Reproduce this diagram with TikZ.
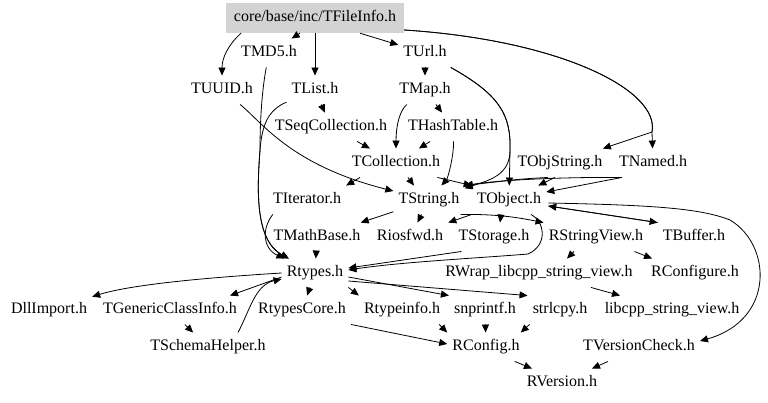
\documentclass[tikz,border=0pt]{standalone}
\usepackage{fontspec}
\setmainfont{Liberation Serif}
\usetikzlibrary{arrows.meta,calc}
\definecolor{boxgray}{RGB}{211,211,211}
\begin{document}
\begin{tikzpicture}[x=1pt,y=-1pt,
  n/.style={inner xsep=5pt,inner ysep=7pt,text height=11pt,text depth=3.5pt,font=\fontsize{16}{19}\selectfont},
  e/.style={draw=black,line width=0.8pt,-{Triangle[length=8pt,width=7pt]}}]
\useasboundingbox (0,0) rectangle (768,402);
% nodes
\node[n,fill=boxgray,minimum width=178pt,minimum height=30pt] (F) at (315,18) {core/base/inc/TFileInfo.h};
\node[n] (TMD5) at (269,53) {TMD5.h};
\node[n] (TUrl) at (425,53) {TUrl.h};
\node[n] (TUUID) at (222,90) {TUUID.h};
\node[n] (TList) at (315,90) {TList.h};
\node[n] (TMap) at (425,90) {TMap.h};
\node[n] (TSeqColl) at (331,127) {TSeqCollection.h};
\node[n] (THash) at (453,127) {THashTable.h};
\node[n] (TColl) at (396,163) {TCollection.h};
\node[n] (TObjStr) at (560,163) {TObjString.h};
\node[n] (TNamed) at (653,163) {TNamed.h};
\node[n] (TIter) at (307,200) {TIterator.h};
\node[n] (TString) at (429,200) {TString.h};
\node[n] (TObject) at (509,200) {TObject.h};
\node[n] (TMath) at (317,237) {TMathBase.h};
\node[n] (Riosfwd) at (410,237) {Riosfwd.h};
\node[n] (TStorage) at (494,237) {TStorage.h};
\node[n] (RSV) at (596,237) {RStringView.h};
\node[n] (TBuffer) at (694,237) {TBuffer.h};
\node[n] (Rtypes) at (315,273) {Rtypes.h};
\node[n] (RWrap) at (539,273) {RWrap\_libcpp\_string\_view.h};
\node[n] (RConfigure) at (695,273) {RConfigure.h};
\node[n] (DllImport) at (49,310) {DllImport.h};
\node[n] (TGCI) at (170,310) {TGenericClassInfo.h};
\node[n] (RtypesCore) at (302,310) {RtypesCore.h};
\node[n] (Rtypeinfo) at (402,310) {Rtypeinfo.h};
\node[n] (snprintf) at (485,310) {snprintf.h};
\node[n] (strlcpy) at (560,310) {strlcpy.h};
\node[n] (libcpp) at (672,310) {libcpp\_string\_view.h};
\node[n] (TSchema) at (208,347) {TSchemaHelper.h};
\node[n] (RConfig) at (486,347) {RConfig.h};
\node[n] (TVC) at (639,347) {TVersionCheck.h};
\node[n] (RVersion) at (562,383) {RVersion.h};
% edges from TFileInfo
\draw[e] ($(F.south)+(-74,0)$) .. controls (228,45) and (222,58) .. (TUUID.north);
\draw[e] ($(F.south)+(-15,0)$) -- (TMD5);
\draw[e] (F) -- (TList);
\draw[e] ($(F.south)+(45,0)$) -- (TUrl);
\draw[e] ($(F.east)+(0,12)$) .. controls (560,40) and (660,90) .. (652,132) -- (TNamed);
\draw[e] ($(F.east)+(0,12)$) .. controls (560,40) and (660,90) .. (652,132) -- (TObjStr);
% upper
\draw[e] (TUrl) -- (TMap);
\draw[e] (TUrl) .. controls (500,95) and (511,115) .. (510,150) -- (TObject);
\draw[e] (TUrl) .. controls (500,95) and (511,115) .. (510,150) .. controls (510,175) and (490,180) .. (TString);
\draw[e] (TMap) .. controls (400,110) and (396,125) .. (TColl);
\draw[e] (TMap) -- (THash);
\draw[e] (TList) -- (TSeqColl);
\draw[e] (TSeqColl) -- (TColl);
\draw[e] (THash) -- (TColl);
\draw[e] (THash) .. controls (454,155) and (448,178) .. (TString);
\draw[e] ($(TColl.south)+(-36,0)$) -- (TIter.north east);
\draw[e] ($(TColl.south)+(12,0)$) -- ($(TString.north)+(-15,0)$);
\draw[e] ($(TColl.south east)+(-8,0)$) -- (TObject.north west);
\draw[e] (TUUID) .. controls (262,122) and (290,165) .. (TString);
\draw[e] (TList) .. controls (268,110) and (262,125) .. (260,150) .. controls (257,190) and (255,240) .. (Rtypes);
\draw[e] (TMD5) .. controls (262,90) and (260,120) .. (260,150) .. controls (257,190) and (255,240) .. (Rtypes);
\draw[e] ($(TIter.south west)+(5,0)$) .. controls (262,228) and (262,248) .. (Rtypes);
\draw[e] ($(TObjStr.south)+(-5,0)$) -- ($(TObject.north east)+(-8,0)$);
\draw[e] ($(TObjStr.south)+(-12,0)$) .. controls (520,179) .. (TString.north east);
\draw[e] ($(TNamed.south west)+(8,0)$) -- ($(TObject.east)+(0,-8)$);
\draw[e] ($(TNamed.south west)+(8,0)$) .. controls (560,177) and (500,180) .. (TString.north east);
% middle
\draw[e] (TString) -- (TMath);
\draw[e] (TString) -- (Riosfwd);
\draw[e] ($(TString.south east)+(-4,0)$) .. controls (500,214) and (520,218) .. (RSV.north west);
\draw[e] (TObject.south west) -- (Riosfwd.north east);
\draw[e] ($(TObject.south)+(-8,0)$) -- ($(TStorage.north)+(6,0)$);
\draw[e] ($(TObject.south)+(22,0)$) .. controls (545,222) and (548,245) .. (528,254) .. controls (480,258) and (400,262) .. ($(Rtypes.east)+(0,-3)$);
\draw[e] ($(TStorage.south west)+(8,0)$) -- ($(Rtypes.east)+(0,-5)$);
\draw[e] (TMath) -- (Rtypes);
\draw[e] ($(TObject.east)+(2,6)$) -- (TBuffer.north west);
\draw[e] (TBuffer.north west) -- ($(TObject.east)+(2,6)$);
\draw[e] ($(TObject.east)+(2,3)$) .. controls (650,205) and (700,208) .. (730,220) .. controls (772,245) and (775,320) .. ($(TVC.east)+(0,-6)$);
% lower
\draw[e] (Rtypes.west) .. controls (200,278) and (130,285) .. (DllImport);
\draw[e] ($(Rtypes.west)+(0,4)$) -- ($(TGCI.north east)+(-12,0)$);
\draw[e] ($(TSchema.north)+(30,0)$) .. controls (250,310) and (255,285) .. ($(Rtypes.west)+(0,6)$);
\draw[e] (TGCI) -- (TSchema);
\draw[e] (Rtypes) -- (RtypesCore);
\draw[e] (Rtypes.south east) -- (Rtypeinfo.north west);
\draw[e] ($(Rtypes.east)+(0,4)$) -- (snprintf.north west);
\draw[e] ($(Rtypes.east)+(0,8)$) -- (strlcpy.north west);
\draw[e] (RtypesCore.south east) -- ($(RConfig.west)+(0,-3)$);
\draw[e] ($(Rtypeinfo.south east)+(-6,0)$) -- (RConfig.north west);
\draw[e] (snprintf) -- (RConfig);
\draw[e] ($(strlcpy.south west)+(2,0)$) -- ($(RConfig.north east)+(-4,0)$);
\draw[e] ($(RConfig.south east)+(-10,0)$) -- ($(RVersion.north)+(-30,0)$);
\draw[e] ($(TVC.south west)+(30,0)$) -- ($(RVersion.north)+(30,0)$);
\draw[e] ($(RSV.south)+(-22,0)$) -- ($(RWrap.north)+(28,0)$);
\draw[e] ($(RSV.south east)+(-14,0)$) -- ($(RConfigure.north west)+(6,0)$);
\draw[e] ($(RWrap.south)+(52,0)$) -- ($(libcpp.north)+(-52,0)$);
\end{tikzpicture}
\end{document}
